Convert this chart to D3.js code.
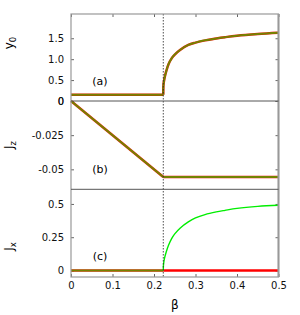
<!DOCTYPE html>
<html>
<head>
<meta charset="utf-8">
<script src="https://cdn.jsdelivr.net/npm/d3@7"></script>
<style>
  body { margin: 0; background: #fff; }
  text { font-family: "DejaVu Sans", sans-serif; }
</style>
</head>
<body>
<div id="chart"></div>
<script>
// critical beta (dotted line)
var betaC = 0.2224;

// flat part (beta < betaC)
var flatBeta = [0, betaC];
var y0Flat = [0.15, 0.15];
var jzLine = [0, -0.0556];
var jxFlat = [0, 0];

// ordered phase (beta > betaC)
var ordBeta = [0.2224, 0.2228, 0.225, 0.230, 0.235, 0.2425, 0.25, 0.2627, 0.2827, 0.30, 0.323, 0.35, 0.371, 0.40, 0.45, 0.5];
var y0Ord   = [0.15, 0.38, 0.53, 0.73, 0.88, 1.02, 1.11, 1.22, 1.34, 1.395, 1.45, 1.495, 1.525, 1.56, 1.60, 1.63];
var jxOrd   = [0, 0.04, 0.088, 0.145, 0.19, 0.24, 0.275, 0.318, 0.365, 0.395, 0.42, 0.44, 0.452, 0.467, 0.482, 0.49];
var jzOrd   = [-0.0556, -0.0556];
var jxRed   = [0, 0];

var xTicks = [0, 0.1, 0.2, 0.3, 0.4, 0.5];
var aTicks = [0, 0.5, 1.0, 1.5];
var bTicks = [0, -0.025, -0.05];
var cTicks = [0, 0.25, 0.5];

var W = 300, H = 315;
var left = 71, right = 278.5;

var svg = d3.select("#chart").append("svg")
  .attr("width", W).attr("height", H);

var x = d3.scaleLinear().domain([0, 0.5]).range([left, right]);

var panels = [
  { top: 14, bottom: 101, dom: [0, 2.08], ticks: aTicks, fmt: d => d === 0 ? "0" : d3.format(".1f")(d),
    label: "(a)", ly: 82, name: "y", sub: "0", ny: 43 },
  { top: 101, bottom: 189.3, dom: [-0.0646, 0], ticks: bTicks, fmt: d => d === 0 ? "0" : String(d),
    label: "(b)", ly: 170, name: "J", sub: "z", ny: 145 },
  { top: 189.3, bottom: 277, dom: [-0.049, 0.61], ticks: cTicks, fmt: d => String(d),
    label: "(c)", ly: 257, name: "J", sub: "x", ny: 246.5 }
];

panels.forEach(function(p) {
  p.y = d3.scaleLinear().domain(p.dom).range([p.bottom, p.top]);
});

function zip(a, b) { return a.map((v, i) => [v, b[i]]); }

function drawPair(p, redPts, greenPts) {
  var line = d3.line().x(d => x(d[0])).y(d => p.y(d[1])).curve(d3.curveCatmullRom.alpha(0.5));
  svg.append("path").attr("d", line(redPts))
    .attr("fill", "none").attr("stroke", "#ff0000").attr("stroke-width", 2.5);
  svg.append("path").attr("d", line(greenPts))
    .attr("fill", "none").attr("stroke", "#00ee00")
    .attr("stroke-width", greenPts.shared ? 2 : 1.4)
    .attr("stroke-opacity", greenPts.shared ? 0.55 : 1);
}

// frames and axes
panels.forEach(function(p, i) {
  var yl = d3.axisLeft(p.y).tickValues(p.ticks).tickFormat(p.fmt)
    .tickSizeInner(-3).tickSizeOuter(0).tickPadding(7);
  var gy = svg.append("g").attr("transform", "translate(" + left + ",0)").call(yl);
  gy.select(".domain").remove();
  gy.selectAll("line").attr("stroke", "#666");
  gy.selectAll("text").attr("font-size", 10).attr("fill", "#111")
    .style("font-family", "DejaVu Sans");

  var yr = d3.axisRight(p.y).tickValues(p.ticks).tickFormat("")
    .tickSizeInner(-3).tickSizeOuter(0);
  var gr = svg.append("g").attr("transform", "translate(" + right + ",0)").call(yr);
  gr.select(".domain").remove();
  gr.selectAll("line").attr("stroke", "#666");

  svg.append("text").attr("x", 100).attr("y", p.ly).attr("text-anchor", "middle")
    .attr("dominant-baseline", "middle").attr("font-size", 11).text(p.label);

  var t = svg.append("text")
    .attr("transform", "translate(12.5," + p.ny + ") rotate(-90)")
    .attr("text-anchor", "middle").attr("font-size", 12);
  t.append("tspan").text(p.name);
  t.append("tspan").attr("font-size", 8.5).attr("dy", 3).text(p.sub);
});

// x axis ticks: top of panel a, bottom of panel c
var xt = d3.axisTop(x).tickValues(xTicks).tickFormat("").tickSizeInner(-3).tickSizeOuter(0);
var gxt = svg.append("g").attr("transform", "translate(0," + panels[0].top + ")").call(xt);
gxt.select(".domain").remove();
gxt.selectAll("line").attr("stroke", "#666");

var xb = d3.axisBottom(x).tickValues(xTicks).tickFormat(d => d === 0 ? "0" : String(d))
  .tickSizeInner(-3).tickSizeOuter(0).tickPadding(5);
var gxb = svg.append("g").attr("transform", "translate(0," + panels[2].bottom + ")").call(xb);
gxb.select(".domain").remove();
gxb.selectAll("line").attr("stroke", "#666");
gxb.selectAll("text").attr("font-size", 10).attr("fill", "#111")
  .style("font-family", "DejaVu Sans");

svg.append("text").attr("x", (left + right) / 2).attr("y", 305)
  .attr("text-anchor", "middle").attr("dominant-baseline", "middle")
  .attr("font-size", 12).text("β");

// curves
var shared = function(a) { a.shared = true; return a; };
drawPair(panels[0], zip(flatBeta, y0Flat), shared(zip(flatBeta, y0Flat)));
drawPair(panels[0], zip(ordBeta, y0Ord), shared(zip(ordBeta, y0Ord)));
drawPair(panels[1], zip(flatBeta, jzLine), shared(zip(flatBeta, jzLine)));
drawPair(panels[1], zip([betaC, 0.5], jzOrd), shared(zip([betaC, 0.5], jzOrd)));
drawPair(panels[2], zip(flatBeta, jxFlat), shared(zip(flatBeta, jxFlat)));
drawPair(panels[2], zip([betaC, 0.5], jxRed), zip(ordBeta, jxOrd));

// dotted critical line
svg.append("line").attr("x1", x(betaC)).attr("x2", x(betaC))
  .attr("y1", panels[0].top).attr("y2", panels[2].bottom)
  .attr("stroke", "#222").attr("stroke-width", 0.8).attr("stroke-dasharray", "1.5,1.5");

// frame
svg.append("rect").attr("x", left).attr("y", panels[0].top)
  .attr("width", right - left).attr("height", panels[2].bottom - panels[0].top)
  .attr("fill", "none").attr("stroke", "#999").attr("stroke-width", 1.2);
svg.append("line").attr("x1", right).attr("x2", right)
  .attr("y1", panels[0].top).attr("y2", panels[2].bottom)
  .attr("stroke", "#999").attr("stroke-width", 2);
[panels[0].bottom, panels[1].bottom].forEach(function(yy) {
  svg.append("line").attr("x1", left).attr("x2", right).attr("y1", yy).attr("y2", yy)
    .attr("stroke", "#555").attr("stroke-width", 1);
});
</script>
</body>
</html>
